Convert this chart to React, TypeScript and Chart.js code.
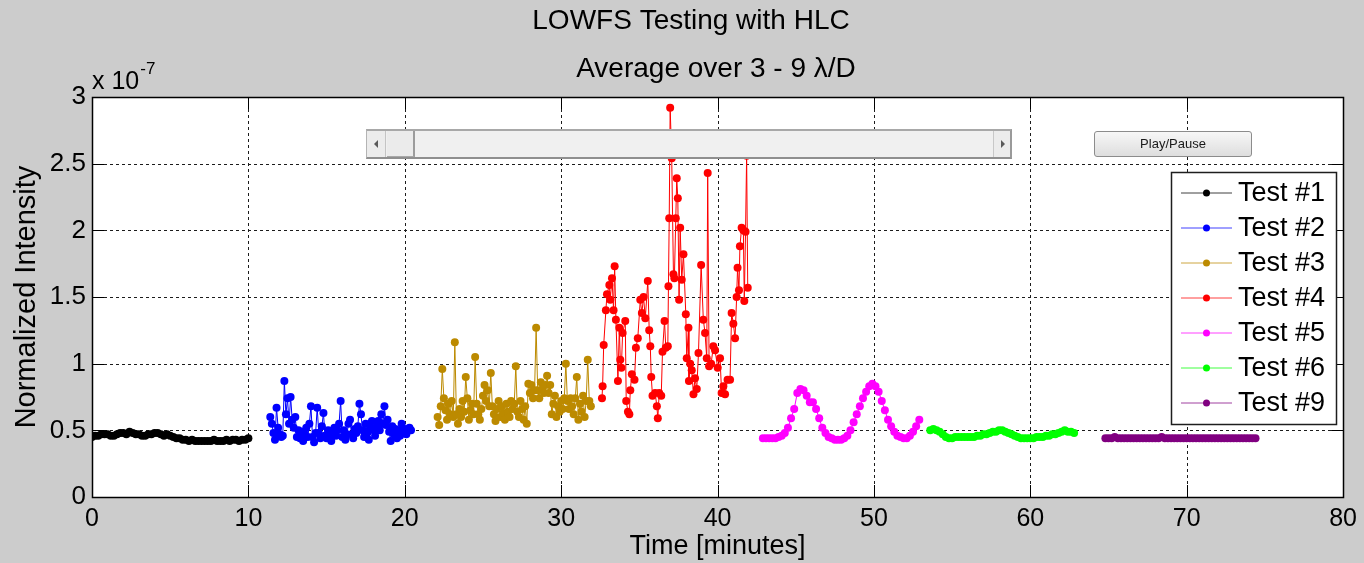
import React, { useEffect, useRef } from "react";
import { Chart, registerables } from "chart.js";

Chart.register(...registerables);

const FONT = '"Liberation Sans", Arial, Helvetica, sans-serif';

const chartTitle = "LOWFS Testing with HLC";
const chartSubtitle = "Average over 3 - 9 \u03bb/D";
const xAxisLabel = "Time [minutes]";
const yAxisLabel = "Normalized Intensity";
const yExponentBase = "x 10";
const yExponent = "-7";
const buttonLabel = "Play/Pause";

const xTickValues = [0, 10, 20, 30, 40, 50, 60, 70, 80];
const xTickLabels = ["0", "10", "20", "30", "40", "50", "60", "70", "80"];
const yTickValues = [0, 0.5, 1, 1.5, 2, 2.5, 3];
const yTickLabels = ["0", "0.5", "1", "1.5", "2", "2.5", "3"];

const seriesNames = ["Test #1", "Test #2", "Test #3", "Test #4", "Test #5", "Test #6", "Test #9"];
const seriesColors = ["#000000", "#0000ff", "#bc8a00", "#ff0000", "#ff00ff", "#00ff00", "#800080"];

// Intensities are in units of 1e-7; times in minutes.
// Test #1: sampled every 0.2 min from t = 0
const test1Start = 0;
const test1Step = 0.2;
const test1Values = [
  0.45, 0.46, 0.46, 0.47, 0.47, 0.47, 0.46, 0.46, 0.47, 0.48,
  0.48, 0.47, 0.49, 0.48, 0.47, 0.47, 0.46, 0.46, 0.47, 0.47,
  0.48, 0.48, 0.47, 0.46, 0.47, 0.46, 0.45, 0.44, 0.44, 0.43,
  0.43, 0.42, 0.43, 0.42, 0.42, 0.42, 0.42, 0.42, 0.42, 0.43,
  0.42, 0.42, 0.42, 0.43, 0.42, 0.43, 0.43, 0.42, 0.43, 0.43,
  0.44,
];

// Test #2: sampled every 0.1 min from t = 11.4
const test2Start = 11.4;
const test2Step = 0.1;
const test2Values = [
  0.60, 0.55, 0.48, 0.43, 0.67, 0.52, 0.47, 0.45, 0.46, 0.87,
  0.62, 0.74, 0.55, 0.75, 0.58, 0.52, 0.60, 0.45, 0.50, 0.44,
  0.49, 0.42, 0.47, 0.52, 0.45, 0.55, 0.68, 0.45, 0.41, 0.48,
  0.67, 0.48, 0.44, 0.53, 0.63, 0.46, 0.44, 0.50, 0.45, 0.42,
  0.48, 0.52, 0.46, 0.50, 0.55, 0.72, 0.45, 0.50, 0.43, 0.47,
  0.55, 0.58, 0.47, 0.44, 0.51, 0.48, 0.53, 0.70, 0.62, 0.50,
  0.45, 0.55, 0.48, 0.43, 0.52, 0.57, 0.50, 0.46, 0.53, 0.57,
  0.50, 0.62, 0.55, 0.68, 0.54, 0.58, 0.49, 0.42, 0.53, 0.47,
  0.51, 0.44, 0.50, 0.46, 0.55, 0.48, 0.51, 0.47, 0.50, 0.52,
  0.50,
];

// Test #3: sampled every 0.1 min from t = 22.1
const test3Start = 22.1;
const test3Step = 0.1;
const test3Values = [
  0.60, 0.54, 0.68, 0.96, 0.74, 0.65, 0.58, 0.70, 0.62, 0.72,
  0.60, 1.16, 0.62, 0.55, 0.66, 0.60, 0.72, 0.64, 0.90, 0.74,
  0.58, 0.65, 0.70, 0.62, 1.05, 0.70, 0.62, 0.58, 0.66, 0.76,
  0.84, 0.72, 0.80, 0.68, 0.93, 0.68, 0.62, 0.57, 0.66, 0.72,
  0.60, 0.68, 0.63, 0.58, 0.70, 0.64, 0.60, 0.72, 0.66, 0.70,
  0.98, 0.64, 0.60, 0.72, 0.66, 0.58, 0.68, 0.55, 0.85, 0.78,
  0.84, 0.74, 0.80, 1.27, 0.80, 0.74, 0.86, 0.81, 0.78, 0.84,
  0.91, 0.78, 0.84, 0.62, 0.70, 0.76, 0.60, 0.68, 0.64, 0.72,
  0.66, 0.74, 1.00, 0.72, 0.66, 0.74, 0.68, 0.62, 0.74, 0.90,
  0.58, 0.70, 0.64, 0.76, 0.60, 0.72, 1.03, 0.72, 0.68,
];

// Test #4: irregular readings
const test4Times = [
  32.61, 32.65, 32.72, 32.86, 32.93, 33.08, 33.14, 33.25, 33.35, 33.42,
  33.50, 33.63, 33.72, 33.78, 33.85, 33.93, 34.10, 34.16, 34.27, 34.36,
  34.42, 34.52, 34.69, 34.78, 34.90, 35.06, 35.16, 35.27, 35.38, 35.54,
  35.63, 35.70, 35.76, 35.84, 36.01, 36.12, 36.18, 36.27, 36.40, 36.48,
  36.61, 36.69, 36.82, 36.86, 36.91, 36.97, 37.07, 37.18, 37.24, 37.33,
  37.39, 37.46, 37.54, 37.61, 37.71, 37.82, 37.97, 38.03, 38.14, 38.17,
  38.25, 38.35, 38.46, 38.56, 38.67, 38.78, 38.95, 39.09, 39.20, 39.31,
  39.37, 39.46, 39.59, 39.73, 39.84, 40.01, 40.16, 40.26, 40.37, 40.48,
  40.64, 40.80, 40.90, 41.01, 41.12, 41.22, 41.28, 41.37, 41.43, 41.54,
  41.65, 41.71, 41.79, 41.86, 41.93,
];
const test4Values = [
  0.74, 0.83, 1.14, 1.40, 1.52, 1.59, 1.48, 1.64, 1.40, 1.73,
  1.33, 0.87, 1.27, 1.03, 0.97, 1.23, 1.32, 0.72, 0.64, 0.62,
  0.80, 0.92, 0.88, 1.12, 1.19, 1.48, 1.38, 1.50, 1.34, 1.62,
  1.25, 1.13, 0.90, 0.76, 0.78, 0.68, 0.59, 0.78, 0.76, 1.09,
  1.32, 1.12, 1.13, 1.58, 2.09, 2.92, 2.54, 1.67, 1.64, 2.09,
  2.39, 2.24, 1.48, 2.02, 1.63, 1.82, 1.37, 1.04, 1.27, 0.87,
  1.00, 0.95, 0.77, 0.89, 0.81, 1.08, 1.74, 1.33, 1.23, 1.04,
  2.43, 0.98, 1.00, 1.13, 1.10, 0.97, 1.04, 0.78, 0.83, 0.77,
  0.88, 0.88, 1.38, 1.30, 1.19, 1.50, 1.72, 1.55, 1.88, 2.02,
  2.00, 1.47, 1.99, 2.56, 1.57,
];

// Test #5: sampled every 0.2 min from t = 42.9
const test5Start = 42.9;
const test5Step = 0.2;
const test5Values = [
  0.44, 0.44, 0.44, 0.44, 0.44, 0.45, 0.46, 0.48, 0.52, 0.59,
  0.66, 0.78, 0.81, 0.80, 0.76, 0.71, 0.71, 0.66, 0.59, 0.52,
  0.48, 0.45, 0.44, 0.43, 0.43, 0.43, 0.44, 0.46, 0.50, 0.56,
  0.62, 0.68, 0.74, 0.79, 0.83, 0.85, 0.83, 0.79, 0.72, 0.65,
  0.58, 0.53, 0.49, 0.46, 0.45, 0.44, 0.44, 0.46, 0.49, 0.53,
  0.58,
];

// Test #6: sampled every 0.2 min from t = 53.6
const test6Start = 53.6;
const test6Step = 0.2;
const test6Values = [
  0.50, 0.51, 0.50, 0.49, 0.47, 0.45, 0.44, 0.44, 0.45,
  0.45, 0.45, 0.45, 0.45, 0.45, 0.45, 0.46, 0.46, 0.47, 0.47,
  0.48, 0.49, 0.49, 0.50, 0.50, 0.49, 0.48, 0.47, 0.46, 0.45,
  0.44, 0.44, 0.44, 0.44, 0.44, 0.45, 0.45, 0.45, 0.46, 0.46,
  0.47, 0.47, 0.48, 0.49, 0.50, 0.49, 0.49, 0.48,
];

// Test #9: sampled every 0.2 min from t = 64.8
const test9Start = 64.8;
const test9Step = 0.2;
const test9Values = [
  0.44, 0.44, 0.44, 0.45, 0.44, 0.44, 0.44, 0.44, 0.44, 0.44,
  0.44, 0.44, 0.44, 0.44, 0.44, 0.44, 0.44, 0.44, 0.45, 0.44,
  0.44, 0.44, 0.44, 0.44, 0.44, 0.44, 0.44, 0.44, 0.44, 0.44,
  0.44, 0.44, 0.44, 0.44, 0.44, 0.44, 0.44, 0.44, 0.44, 0.44,
  0.44, 0.44, 0.44, 0.44, 0.44, 0.44, 0.44, 0.44, 0.44,
];

type Pt = { x: number; y: number };

function sampled(start: number, step: number, values: number[]): Pt[] {
  return values.map((y, i) => ({ x: Math.round((start + step * i) * 1000) / 1000, y }));
}

function paired(times: number[], values: number[]): Pt[] {
  return values.map((y, i) => ({ x: times[i], y }));
}

const seriesPoints: Pt[][] = [
  sampled(test1Start, test1Step, test1Values),
  sampled(test2Start, test2Step, test2Values),
  sampled(test3Start, test3Step, test3Values),
  paired(test4Times, test4Values),
  sampled(test5Start, test5Step, test5Values),
  sampled(test6Start, test6Step, test6Values),
  sampled(test9Start, test9Step, test9Values),
];

const CANVAS_W = 1364;
const CANVAS_H = 563;

// Axes box, inner ticks, dotted grid, legend and titles in MATLAB figure style
const figurePlugin = {
  id: "figureStyle",
  beforeDraw(chart: any) {
    const { ctx, chartArea: a } = chart;
    ctx.save();
    ctx.fillStyle = "#cccccc";
    ctx.fillRect(0, 0, chart.width, chart.height);
    ctx.fillStyle = "#ffffff";
    ctx.fillRect(a.left, a.top, a.right - a.left, a.bottom - a.top);
    ctx.restore();
  },
  beforeDatasetsDraw(chart: any) {
    const { ctx, chartArea: a } = chart;
    const xs = chart.scales.x;
    const ys = chart.scales.y;
    ctx.save();
    ctx.strokeStyle = "#1c1c1c";
    ctx.lineWidth = 1;
    ctx.setLineDash([3, 3]);
    for (const v of xTickValues) {
      const px = Math.round(xs.getPixelForValue(v)) + 0.5;
      if (px <= a.left + 2 || px >= a.right - 2) continue;
      ctx.beginPath();
      ctx.moveTo(px, a.top);
      ctx.lineTo(px, a.bottom);
      ctx.stroke();
    }
    for (const v of yTickValues) {
      const py = Math.round(ys.getPixelForValue(v)) + 0.5;
      if (py <= a.top + 2 || py >= a.bottom - 2) continue;
      ctx.beginPath();
      ctx.moveTo(a.left, py);
      ctx.lineTo(a.right, py);
      ctx.stroke();
    }
    ctx.restore();
  },
  afterDatasetsDraw(chart: any) {
    const { ctx, chartArea: a } = chart;
    const xs = chart.scales.x;
    const ys = chart.scales.y;
    const tick = 12;
    ctx.save();
    ctx.strokeStyle = "#000000";
    ctx.lineWidth = 1;
    ctx.setLineDash([]);
    ctx.beginPath();
    for (const v of xTickValues) {
      const px = Math.round(xs.getPixelForValue(v)) + 0.5;
      ctx.moveTo(px, a.bottom);
      ctx.lineTo(px, a.bottom - tick);
      ctx.moveTo(px, a.top);
      ctx.lineTo(px, a.top + tick);
    }
    for (const v of yTickValues) {
      const py = Math.round(ys.getPixelForValue(v)) + 0.5;
      ctx.moveTo(a.left, py);
      ctx.lineTo(a.left + tick, py);
      ctx.moveTo(a.right, py);
      ctx.lineTo(a.right - tick, py);
    }
    ctx.stroke();
    ctx.lineWidth = 1.5;
    ctx.strokeRect(Math.round(a.left) + 0.5, Math.round(a.top) + 0.5, Math.round(a.right - a.left), Math.round(a.bottom - a.top));
    ctx.restore();
  },
  afterDraw(chart: any) {
    const { ctx } = chart;
    ctx.save();

    // legend
    const lgLeft = 1171.5;
    const lgTop = 172.5;
    const lgRight = 1336.5;
    const lgBottom = 424.5;
    ctx.fillStyle = "#ffffff";
    ctx.fillRect(lgLeft, lgTop, lgRight - lgLeft, lgBottom - lgTop);
    ctx.strokeStyle = "#1e1e1e";
    ctx.lineWidth = 1.5;
    ctx.strokeRect(lgLeft, lgTop, lgRight - lgLeft, lgBottom - lgTop);
    ctx.font = `27px ${FONT}`;
    ctx.textAlign = "left";
    ctx.textBaseline = "middle";
    seriesNames.forEach((name, i) => {
      const cy = 193 + 35 * i;
      const color = seriesColors[i];
      ctx.strokeStyle = color;
      ctx.lineWidth = 1;
      ctx.globalAlpha = 0.75;
      ctx.beginPath();
      ctx.moveTo(1181, cy);
      ctx.lineTo(1232, cy);
      ctx.stroke();
      ctx.globalAlpha = 1;
      ctx.fillStyle = color;
      ctx.beginPath();
      ctx.arc(1206.5, cy, 3.5, 0, Math.PI * 2);
      ctx.fill();
      ctx.fillStyle = "#000000";
      ctx.fillText(name, 1238, cy + 1);
    });

    // titles
    ctx.fillStyle = "#000000";
    ctx.textAlign = "center";
    ctx.textBaseline = "middle";
    ctx.font = `28px ${FONT}`;
    ctx.fillText(chartTitle, 691, 21);
    ctx.fillText(chartSubtitle, 716, 69);

    // exponent of the y axis
    ctx.textAlign = "left";
    ctx.textBaseline = "alphabetic";
    ctx.font = `25px ${FONT}`;
    ctx.fillText(yExponentBase, 92, 89);
    const baseW = ctx.measureText(yExponentBase).width;
    ctx.font = `17px ${FONT}`;
    ctx.fillText(yExponent, 92 + baseW + 1, 74);
    ctx.restore();
  },
};

function ScrollBar() {
  const btn: React.CSSProperties = {
    position: "absolute",
    top: 0,
    bottom: 0,
    background: "#ececec",
    boxSizing: "border-box",
  };
  return (
    <div
      style={{
        position: "absolute",
        left: 366,
        top: 129,
        width: 646,
        height: 30,
        background: "#f0f0f0",
        borderTop: "2px solid #a8a8a8",
        borderBottom: "2px solid #8f8f8f",
        borderLeft: "1px solid #b4b4b4",
        borderRight: "2px solid #9a9a9a",
        boxSizing: "border-box",
      }}
    >
      <div style={{ ...btn, left: 0, width: 19, borderRight: "1px solid #c4c4c4" }}>
        <div
          style={{
            position: "absolute",
            left: 7,
            top: 9,
            width: 0,
            height: 0,
            borderTop: "4px solid transparent",
            borderBottom: "4px solid transparent",
            borderRight: "4px solid #5a5a5a",
          }}
        />
      </div>
      <div
        style={{
          ...btn,
          left: 20,
          width: 28,
          background: "#ebebeb",
          borderRight: "2px solid #9c9c9c",
          borderBottom: "1px solid #a8a8a8",
        }}
      />
      <div style={{ ...btn, right: 0, width: 17, borderLeft: "1px solid #c8c8c8" }}>
        <div
          style={{
            position: "absolute",
            left: 7,
            top: 9,
            width: 0,
            height: 0,
            borderTop: "4px solid transparent",
            borderBottom: "4px solid transparent",
            borderLeft: "4px solid #5a5a5a",
          }}
        />
      </div>
    </div>
  );
}

function PlayButton() {
  return (
    <div
      style={{
        position: "absolute",
        left: 1094,
        top: 131,
        width: 158,
        height: 26,
        boxSizing: "border-box",
        border: "1px solid #8c8c8c",
        borderRadius: 3,
        background: "linear-gradient(#f7f7f7, #dedede)",
        font: `13px ${FONT}`,
        color: "#1a1a1a",
        textAlign: "center",
        lineHeight: "24px",
      }}
    >
      {buttonLabel}
    </div>
  );
}

export default function App() {
  const canvasRef = useRef<HTMLCanvasElement | null>(null);

  useEffect(() => {
    const canvas = canvasRef.current;
    if (!canvas) return;
    const chart = new Chart(canvas, {
      type: "line",
      data: {
        datasets: seriesNames.map((name, i) => ({
          label: name,
          data: seriesPoints[i],
          borderColor: seriesColors[i],
          backgroundColor: seriesColors[i],
          borderWidth: 1,
          pointRadius: 4,
          pointHoverRadius: 4,
          pointBorderWidth: 0,
          pointBackgroundColor: seriesColors[i],
          tension: 0,
          fill: false,
        })),
      },
      options: {
        animation: false,
        responsive: false,
        devicePixelRatio: 1,
        events: [],
        layout: { padding: { left: 0, top: 97, right: 18, bottom: 0 } },
        plugins: {
          legend: { display: false },
          title: { display: false },
          tooltip: { enabled: false },
        },
        scales: {
          x: {
            type: "linear",
            min: 0,
            max: 80,
            afterBuildTicks: (s: any) => {
              s.ticks = xTickValues.map((v) => ({ value: v }));
            },
            afterFit: (s: any) => {
              s.height = 66;
            },
            ticks: {
              autoSkip: false,
              maxRotation: 0,
              padding: 7,
              color: "#000000",
              font: { family: FONT, size: 25 },
              callback: (_v: any, i: number) => xTickLabels[i],
            },
            grid: { display: false, drawTicks: false },
            border: { display: false },
            title: {
              display: true,
              text: xAxisLabel,
              color: "#000000",
              font: { family: FONT, size: 27 },
              padding: { top: 0, bottom: 0 },
            },
          },
          y: {
            type: "linear",
            min: 0,
            max: 3,
            afterBuildTicks: (s: any) => {
              s.ticks = yTickValues.map((v) => ({ value: v }));
            },
            afterFit: (s: any) => {
              s.width = 92;
            },
            ticks: {
              padding: 6,
              color: "#000000",
              font: { family: FONT, size: 26 },
              callback: (_v: any, i: number) => yTickLabels[i],
            },
            grid: { display: false, drawTicks: false },
            border: { display: false },
            title: {
              display: true,
              text: yAxisLabel,
              color: "#000000",
              font: { family: FONT, size: 29 },
              padding: { top: 10, bottom: 0 },
            },
          },
        },
      },
      plugins: [figurePlugin],
    } as any);
    return () => chart.destroy();
  }, []);

  return (
    <div
      style={{
        position: "fixed",
        left: 0,
        top: 0,
        width: CANVAS_W,
        height: CANVAS_H,
        background: "#cccccc",
        overflow: "hidden",
      }}
    >
      <canvas
        ref={canvasRef}
        width={CANVAS_W}
        height={CANVAS_H}
        style={{ display: "block", width: CANVAS_W, height: CANVAS_H }}
      />
      <ScrollBar />
      <PlayButton />
    </div>
  );
}
